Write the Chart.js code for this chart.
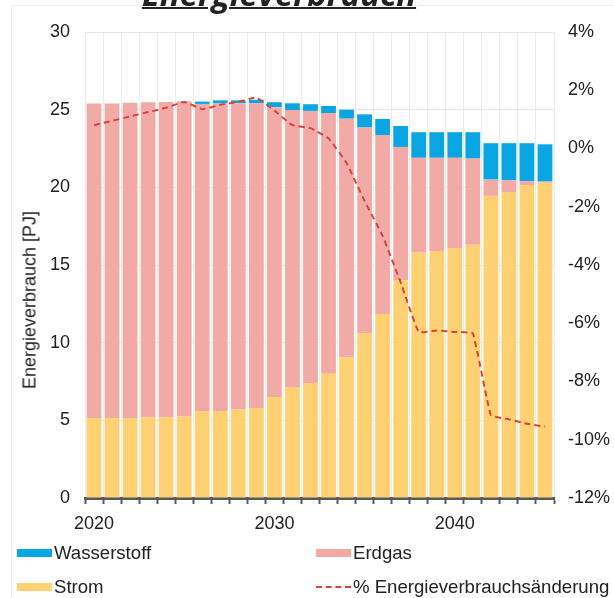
<!DOCTYPE html>
<html>
<head>
<meta charset="utf-8">
<script src="https://cdn.jsdelivr.net/npm/chart.js@4.4.1/dist/chart.umd.min.js"></script>
<style>
  html, body { margin: 0; padding: 0; background: #fff; }
  #wrap { position: relative; width: 614px; height: 598px; overflow: hidden; font-family: "Liberation Sans", Arial, sans-serif; }
  #frame { position: absolute; left: 11px; top: 5px; width: 640px; height: 640px; border: 1px solid #ececec; }
  #title { position: absolute; left: 0; width: 558px; top: -29px; text-align: center; font: italic 700 33px "Open Sans", sans-serif; color: #222; text-decoration: underline; text-decoration-thickness: 2px; }
  #ytitle { position: absolute; left: 30px; top: 300px; transform: translate(-50%, -50%) rotate(-90deg); white-space: nowrap; font-size: 18px; color: #222; }
  #chart { position: absolute; left: 0; top: 0; }
  .legend { position: absolute; display: flex; align-items: center; white-space: nowrap; font-size: 18.6px; color: #222; }
  .legend .box { width: 35px; height: 8px; margin-right: 2px; flex: none; }
  .legend .dash { width: 35px; height: 0; border-top: 2px dashed; margin-right: 2px; flex: none; }
</style>
</head>
<body>
<div id="wrap">
  <div id="frame"></div>
  <canvas id="chart" width="614" height="598"></canvas>
  <div id="title">Energieverbrauch</div>
  <div id="ytitle">Energieverbrauch [PJ]</div>
  <div id="legend"></div>
</div>
<script>
// Jahre und Werte (PJ)
const years = ['2020','2021','2022','2023','2024','2025','2026','2027','2028','2029',
  '2030','2031','2032','2033','2034','2035','2036','2037','2038','2039',
  '2040','2041','2042','2043','2044','2045'];
const xTickLabels = ['2020', '2030', '2040'];

const strom = [5.15, 5.15, 5.15, 5.2, 5.2, 5.25, 5.6, 5.6, 5.7, 5.8,
  6.5, 7.1, 7.4, 8.0, 9.05, 10.6, 11.85, 14.0, 15.8, 15.9,
  16.1, 16.3, 19.45, 19.7, 20.15, 20.3];
const erdgas = [20.25, 20.25, 20.3, 20.27, 20.3, 20.29, 19.77, 19.8, 19.72, 19.61,
  18.66, 17.88, 17.52, 16.78, 15.37, 13.25, 11.52, 8.6, 6.1, 6.0,
  5.8, 5.55, 1.05, 0.77, 0.25, 0.07];
const wasserstoff = [0, 0, 0, 0, 0, 0, 0.15, 0.2, 0.18, 0.23,
  0.32, 0.43, 0.43, 0.46, 0.58, 0.85, 1.03, 1.35, 1.65, 1.65,
  1.65, 1.7, 2.34, 2.37, 2.44, 2.4];
// % Energieverbrauchsänderung (rechte Achse)
const aenderung = [0.8, 0.95, 1.1, 1.25, 1.4, 1.6, 1.35, 1.5, 1.6, 1.75,
  1.3, 0.8, 0.7, 0.35, -0.5, -1.8, -3.0, -4.6, -6.3, -6.25,
  -6.3, -6.35, -9.15, -9.3, -9.45, -9.55];

const BLUE = '#0aa6e4';
const PINK = '#f2aaa7';
const YELLOW = '#ffd172';
const RED = '#d8443c';
const tickFont = { size: 18, family: '"Liberation Sans", Arial, sans-serif' };

const datasets = [
  { type: 'line', label: '% Energieverbrauchsänderung', data: aenderung, yAxisID: 'y2',
    borderColor: RED, borderWidth: 2, borderDash: [6, 4], pointRadius: 0, tension: 0.1, fill: false, order: 0 },
  { label: 'Strom', data: strom, backgroundColor: YELLOW, stack: 's', order: 1 },
  { label: 'Erdgas', data: erdgas, backgroundColor: PINK, stack: 's', order: 1 },
  { label: 'Wasserstoff', data: wasserstoff, backgroundColor: BLUE, stack: 's', order: 1 },
];

new Chart(document.getElementById('chart'), {
  type: 'bar',
  data: { labels: years, datasets },
  options: {
    responsive: false,
    animation: false,
    layout: { padding: { top: 32, bottom: 64, left: 0, right: 0 } },
    datasets: { bar: { barPercentage: 0.82, categoryPercentage: 1 } },
    plugins: { legend: { display: false }, tooltip: { enabled: false }, title: { display: false } },
    scales: {
      x: {
        stacked: true,
        grid: { color: '#ececec', offset: true, tickColor: '#5a5a5a', tickLength: 6, tickWidth: 2 },
        border: { color: '#5a5a5a', width: 3 },
        ticks: {
          autoSkip: false, maxRotation: 0, color: '#222', font: tickFont, padding: 9,
          callback: (v, i) => xTickLabels.includes(years[i]) ? years[i] : ''
        },
        afterFit: s => { s.height = 36; }
      },
      y: {
        stacked: true, min: 0, max: 30,
        ticks: { stepSize: 5, color: '#222', font: tickFont, padding: 15 },
        grid: { color: '#e6e6e6', drawTicks: false },
        border: { display: false },
        afterFit: s => { s.width = 85; }
      },
      y2: {
        position: 'right', min: -12, max: 4,
        ticks: { stepSize: 2, color: '#222', font: tickFont, padding: 14, callback: v => v + '%' },
        grid: { display: false, drawTicks: false },
        border: { display: false },
        afterFit: s => { s.width = 60; }
      }
    }
  }
});

// Legende in zwei Spalten
const legendItems = [
  { label: 'Wasserstoff', color: BLUE, x: 17, y: 541 },
  { label: 'Erdgas', color: PINK, x: 316, y: 541 },
  { label: 'Strom', color: YELLOW, x: 17, y: 575 },
  { label: '% Energieverbrauchsänderung', color: RED, x: 316, y: 575, dashed: true },
];
document.getElementById('legend').innerHTML = legendItems.map(it => `
  <div class="legend" style="left:${it.x}px; top:${it.y}px; height:24px;">
    ${it.dashed ? `<span class="dash" style="border-color:${it.color}"></span>` : `<span class="box" style="background:${it.color}"></span>`}
    <span>${it.label}</span>
  </div>`).join('');
</script>
</body>
</html>
